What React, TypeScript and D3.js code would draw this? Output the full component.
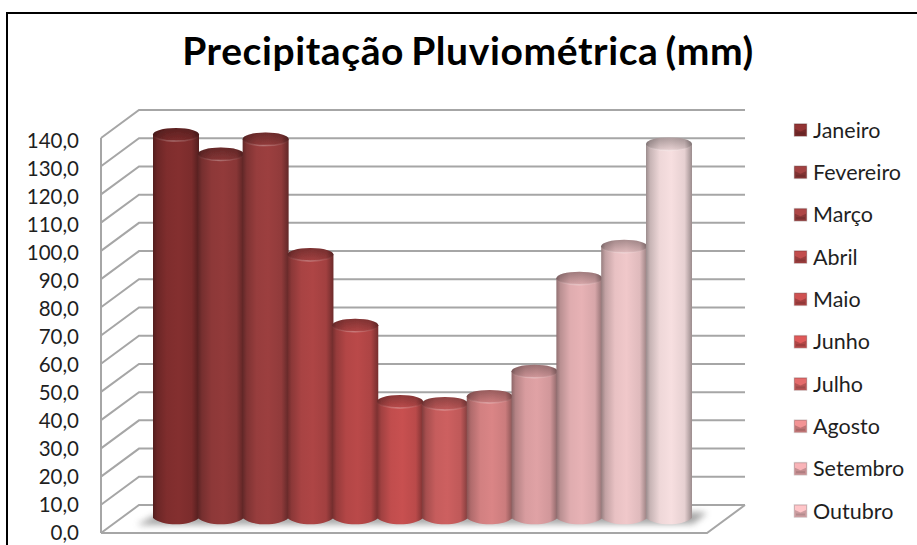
import React from "react";
import * as d3 from "d3";

const W = 917;
const H = 545;

const chartTitle = "Precipitação Pluviométrica (mm)";
const barIds = ["b01", "b02", "b03", "b04", "b05", "b06", "b07", "b08", "b09", "b10", "b11", "b12"];
const rainfall = [135.9, 129, 134.3, 93.4, 68.3, 41.3, 40.6, 43.1, 52, 85, 96.3, 132.6];
const barColors = ["#842f2f", "#923a3a", "#9c3f3f", "#ae4545", "#ba4949", "#c85050", "#cd6060", "#da8586", "#e0a2a5", "#e7b2b5", "#f0c8ca", "#f7dfe0"];
const legendLabels = ["Janeiro", "Fevereiro", "Março", "Abril", "Maio", "Junho", "Julho", "Agosto", "Setembro", "Outubro"];
const ticks = d3.range(0, 141, 10);

// 3D box: front plane of the walls, and the offset to the back plane
const frontLeft = 101;
const frontRight = 707;
const depthX = 38;
const depthY = -28;

const yFront = d3.scaleLinear().domain([0, 140]).range([533, 138]);
const yLabel = d3.scaleLinear().domain([0, 140]).range([533, 141]);
const yBar = d3.scaleLinear().domain([0, 140]).range([518, 123]);
const xBar = d3.scalePoint<string>().domain(barIds).range([176, 669]);
const legendY = d3.scalePoint<string>().domain(legendLabels).range([130, 511]);

const barWidth = 46;
const capRy = 6.5;

const fmt = (v: number) => v.toFixed(1).replace(".", ",");
const font = "Lato, 'Noto Sans', sans-serif";

function shade(c: string, k: number) {
  return k >= 0 ? d3.rgb(c).brighter(k).formatHex() : d3.rgb(c).darker(-k).formatHex();
}

function bodyPath(cx: number, top: number, base: number) {
  const p = d3.path();
  const rx = barWidth / 2;
  p.moveTo(cx - rx, top);
  p.lineTo(cx - rx, base);
  p.bezierCurveTo(cx - rx * 0.6, base + capRy * 1.3, cx + rx * 0.6, base + capRy * 1.3, cx + rx, base);
  p.lineTo(cx + rx, top);
  p.closePath();
  return p.toString();
}

export default function App() {
  const floorY = yFront(0);
  const backFloorY = floorY + depthY;
  const lastX = xBar("b12")!;
  const shadow = d3.line()([
    [frontLeft + 36, floorY - 8],
    [frontLeft + 56, floorY - 19],
    [lastX + 28, floorY - 21],
    [lastX + 38, floorY - 20],
    [lastX + 24, floorY - 9],
  ]);

  return (
    <svg width={W} height={H} viewBox={`0 0 ${W} ${H}`} style={{ position: "fixed", left: 0, top: 0, display: "block", background: "#fff" }}>
      <defs>
        {barColors.map((c, i) => (
          <linearGradient key={c} id={`g${i}`} x1="0" x2="1" y1="0" y2="0">
            <stop offset="0" stopColor={shade(c, -1.3)} />
            <stop offset="0.09" stopColor={shade(c, -0.6)} />
            <stop offset="0.3" stopColor={shade(c, -0.1)} />
            <stop offset="0.55" stopColor={shade(c, 0)} />
            <stop offset="0.84" stopColor={shade(c, -0.2)} />
            <stop offset="1" stopColor={shade(c, -1.3)} />
          </linearGradient>
        ))}
        <linearGradient id="rim" x1="0" x2="1" y1="0" y2="0">
          <stop offset="0" stopColor="#fff" stopOpacity="0" />
          <stop offset="0.45" stopColor="#fff" stopOpacity="0.28" />
          <stop offset="1" stopColor="#fff" stopOpacity="0" />
        </linearGradient>
        <linearGradient id="capShade" x1="0" x2="0" y1="0" y2="1">
          <stop offset="0" stopColor="#000" stopOpacity="0.3" />
          <stop offset="1" stopColor="#000" stopOpacity="0.06" />
        </linearGradient>
        <filter id="soft" x="-10%" y="-100%" width="120%" height="300%">
          <feGaussianBlur stdDeviation="3" />
        </filter>
        <filter id="capSoft" x="-5%" y="-30%" width="110%" height="160%">
          <feGaussianBlur stdDeviation="0.5" />
        </filter>
      </defs>

      {/* frame */}
      <path d={`M7 ${H} V13 H${W}`} fill="none" stroke="#000" strokeWidth={2} />

      <text x={468} y={65} textAnchor="middle" fontFamily={font} fontWeight={700} fontSize={39} letterSpacing={0.6} wordSpacing={-3} fill="#000">
        {chartTitle}
      </text>

      {/* walls and floor */}
      <g fill="none" stroke="#a6a6a6" strokeWidth={2}>
        <line x1={frontLeft} x2={frontLeft} y1={yFront(140)} y2={floorY} />
        {ticks.map((t) => (
          <path
            key={t}
            d={`M${frontLeft} ${yFront(t)} L${frontLeft + depthX} ${yFront(t) + depthY} H${frontRight + depthX}`}
          />
        ))}
        <path d={`M${frontLeft} ${floorY} H${frontRight} L${frontRight + depthX} ${backFloorY}`} />
      </g>
      <path d={shadow ?? ""} fill="#8a8a8a" opacity={0.75} filter="url(#soft)" />

      {/* value axis labels */}
      <g fontFamily={font} fontSize={20.5} fill="#1f1f1f" textAnchor="end">
        {ticks.map((t) => (
          <text key={t} x={79} y={yLabel(t)} dy="0.35em">
            {fmt(t)}
          </text>
        ))}
      </g>

      {/* cylinders */}
      {rainfall.map((v, i) => {
        const id = barIds[i];
        const cx = xBar(id)!;
        const top = yBar(v);
        const base = yBar(0);
        const rx = barWidth / 2;
        return (
          <g key={id}>
            <path d={bodyPath(cx, top, base)} fill={`url(#g${i})`} />
            <g filter="url(#capSoft)">
              <ellipse cx={cx} cy={top} rx={rx} ry={capRy} fill={`url(#g${i})`} />
              <ellipse cx={cx} cy={top} rx={rx} ry={capRy} fill="url(#capShade)" />
            </g>
            <path
              d={`M${cx - rx} ${top} A${rx} ${capRy} 0 0 0 ${cx + rx} ${top}`}
              fill="none"
              stroke="url(#rim)"
              strokeWidth={1.5}
            />
          </g>
        );
      })}

      {/* legend */}
      {legendLabels.map((label, i) => {
        const y = legendY(label)!;
        const c = barColors[i];
        const x0 = 794;
        const s = 13;
        const inset = 2;
        return (
          <g key={label}>
            <rect x={x0} y={y - s / 2} width={s} height={s} fill={shade(c, -0.35)} stroke="#d8d8d8" strokeWidth={0.6} />
            <path
              d={`M${x0 + 1} ${y - s / 2 + 1} H${x0 + s - 1} V${y - 1} L${x0 + s / 2} ${y + 1.5} L${x0 + 1} ${y - 1} Z`}
              fill={shade(c, 0.3)}
            />
            <rect x={x0 + inset} y={y + s / 2 - 4} width={s - 2 * inset} height={2} fill={shade(c, -0.7)} />
            <text x={813} y={y} dy="0.35em" fontFamily={font} fontSize={21.5} fill="#1f1f1f">
              {label}
            </text>
          </g>
        );
      })}
    </svg>
  );
}
